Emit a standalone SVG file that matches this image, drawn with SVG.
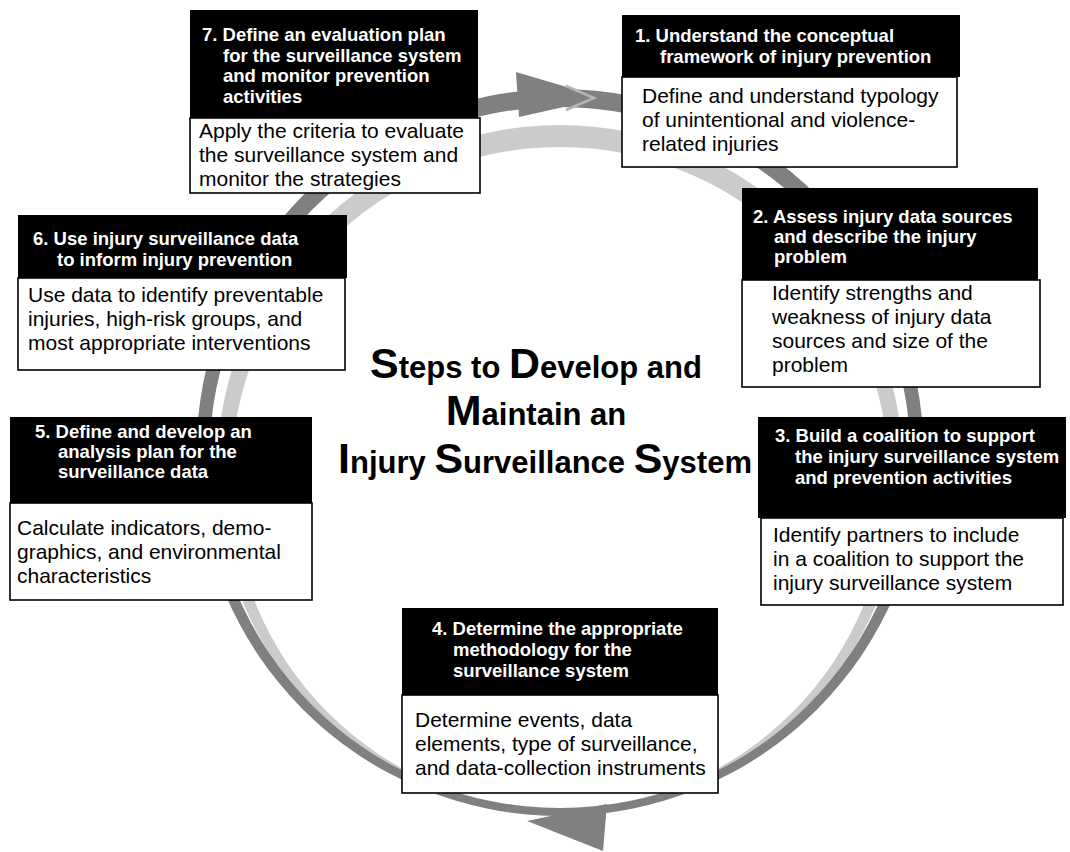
<svg xmlns="http://www.w3.org/2000/svg" width="1070" height="852" viewBox="0 0 1070 852">
  <style>
    .hdr { fill: #000; }
    .body { fill: #fff; stroke: #000; stroke-width: 1.6; }
    .ht { font-family: "Liberation Sans", Arial, sans-serif; font-weight: bold; font-size: 18.5px; fill: #fff; }
    .bt { font-family: "Liberation Sans", Arial, sans-serif; font-size: 21px; fill: #000; }
    .title { font-family: "Liberation Sans", Arial, sans-serif; font-weight: bold; font-size: 31px; fill: #000; }
    .cap { font-size: 43px; }
    .dark { fill: #808080; }
    .light { fill: #cbcbcb; }
  </style>

  <!-- circular flow ring: two crescent bands and two arrowheads -->
  <g id="connectors">
    <path class="light" fill-rule="evenodd"
          d="M 217,470.5 a 343,345.5 0 1,0 686,0 a 343,345.5 0 1,0 -686,0 Z
             M 231,478 a 329,331 0 1,0 658,0 a 329,331 0 1,0 -658,0 Z"/>
    <path class="dark" fill-rule="evenodd"
          d="M 196.5,452.5 a 363.5,363.5 0 1,0 727,0 a 363.5,363.5 0 1,0 -727,0 Z
             M 209.5,457.5 a 350.5,350.5 0 1,0 701,0 a 350.5,350.5 0 1,0 -701,0 Z"/>
    <polygon class="dark" points="516,72 604,98 519,117"/>
    <polyline points="566,86 594,98 566,110" fill="none" stroke="#b4b4b4" stroke-width="2.5"/>
    <polygon class="dark" points="607,804 527,821 603,851"/>
  </g>

  <!-- 7 -->
  <g id="step7">
    <rect class="hdr" x="190" y="10" width="288" height="108"/>
    <rect class="body" x="190" y="118" width="290" height="75"/>
    <text class="ht"><tspan x="202" y="41">7. Define an evaluation plan</tspan><tspan x="223" y="61.5">for the surveillance system</tspan><tspan x="223" y="82">and monitor prevention</tspan><tspan x="223" y="102.5">activities</tspan></text>
    <text class="bt"><tspan x="199" y="138">Apply the criteria to evaluate</tspan><tspan x="199" y="162">the surveillance system and</tspan><tspan x="199" y="186">monitor the strategies</tspan></text>
  </g>

  <!-- 1 -->
  <g id="step1">
    <rect class="hdr" x="622" y="15" width="338" height="62"/>
    <rect class="body" x="622" y="77" width="335" height="90"/>
    <text class="ht"><tspan x="635" y="42">1. Understand the conceptual</tspan><tspan x="660" y="63">framework of injury prevention</tspan></text>
    <text class="bt"><tspan x="642" y="103">Define and understand typology</tspan><tspan x="642" y="127">of unintentional and violence-</tspan><tspan x="642" y="151">related injuries</tspan></text>
  </g>

  <!-- 2 -->
  <g id="step2">
    <rect class="hdr" x="742" y="188" width="296" height="92"/>
    <rect class="body" x="742" y="280" width="298" height="107"/>
    <text class="ht"><tspan x="753" y="223">2. Assess injury data sources</tspan><tspan x="774" y="243">and describe the injury</tspan><tspan x="774" y="263">problem</tspan></text>
    <text class="bt"><tspan x="772" y="300">Identify strengths and</tspan><tspan x="772" y="324">weakness of injury data</tspan><tspan x="772" y="348">sources and size of the</tspan><tspan x="772" y="372">problem</tspan></text>
  </g>

  <!-- 3 -->
  <g id="step3">
    <rect class="hdr" x="758" y="417" width="308" height="101"/>
    <rect class="body" x="761" y="518" width="302" height="87"/>
    <text class="ht"><tspan x="775" y="442">3. Build a coalition to support</tspan><tspan x="795" y="463">the injury surveillance system</tspan><tspan x="795" y="484">and prevention activities</tspan></text>
    <text class="bt"><tspan x="773" y="542">Identify partners to include</tspan><tspan x="773" y="566">in a coalition to support the</tspan><tspan x="773" y="590">injury surveillance system</tspan></text>
  </g>

  <!-- 4 -->
  <g id="step4">
    <rect class="hdr" x="402" y="608" width="316" height="87"/>
    <rect class="body" x="402" y="695" width="316" height="98"/>
    <text class="ht"><tspan x="432" y="635">4. Determine the appropriate</tspan><tspan x="453" y="656">methodology for the</tspan><tspan x="453" y="677">surveillance system</tspan></text>
    <text class="bt"><tspan x="415" y="727">Determine events, data</tspan><tspan x="415" y="751">elements, type of surveillance,</tspan><tspan x="415" y="775">and data-collection instruments</tspan></text>
  </g>

  <!-- 5 -->
  <g id="step5">
    <rect class="hdr" x="10" y="417" width="302" height="86"/>
    <rect class="body" x="10" y="503" width="302" height="97"/>
    <text class="ht"><tspan x="35" y="438">5. Define and develop an</tspan><tspan x="58" y="458">analysis plan for the</tspan><tspan x="58" y="478">surveillance data</tspan></text>
    <text class="bt"><tspan x="17" y="535">Calculate indicators, demo-</tspan><tspan x="17" y="559">graphics, and environmental</tspan><tspan x="17" y="583">characteristics</tspan></text>
  </g>

  <!-- 6 -->
  <g id="step6">
    <rect class="hdr" x="18" y="215" width="329" height="63"/>
    <rect class="body" x="18" y="278" width="327" height="92"/>
    <text class="ht"><tspan x="33" y="245">6. Use injury surveillance data</tspan><tspan x="57" y="266">to inform injury prevention</tspan></text>
    <text class="bt"><tspan x="28" y="302">Use data to identify preventable</tspan><tspan x="28" y="326">injuries, high-risk groups, and</tspan><tspan x="28" y="350">most appropriate interventions</tspan></text>
  </g>

  <!-- centre title -->
  <g id="title">
    <text class="title" x="536" y="378" text-anchor="middle"><tspan class="cap">S</tspan>teps to <tspan class="cap">D</tspan>evelop and</text>
    <text class="title" x="536" y="425" text-anchor="middle"><tspan class="cap">M</tspan>aintain an</text>
    <text class="title" x="545" y="473" text-anchor="middle"><tspan class="cap">I</tspan>njury <tspan class="cap">S</tspan>urveillance <tspan class="cap">S</tspan>ystem</text>
  </g>
</svg>
